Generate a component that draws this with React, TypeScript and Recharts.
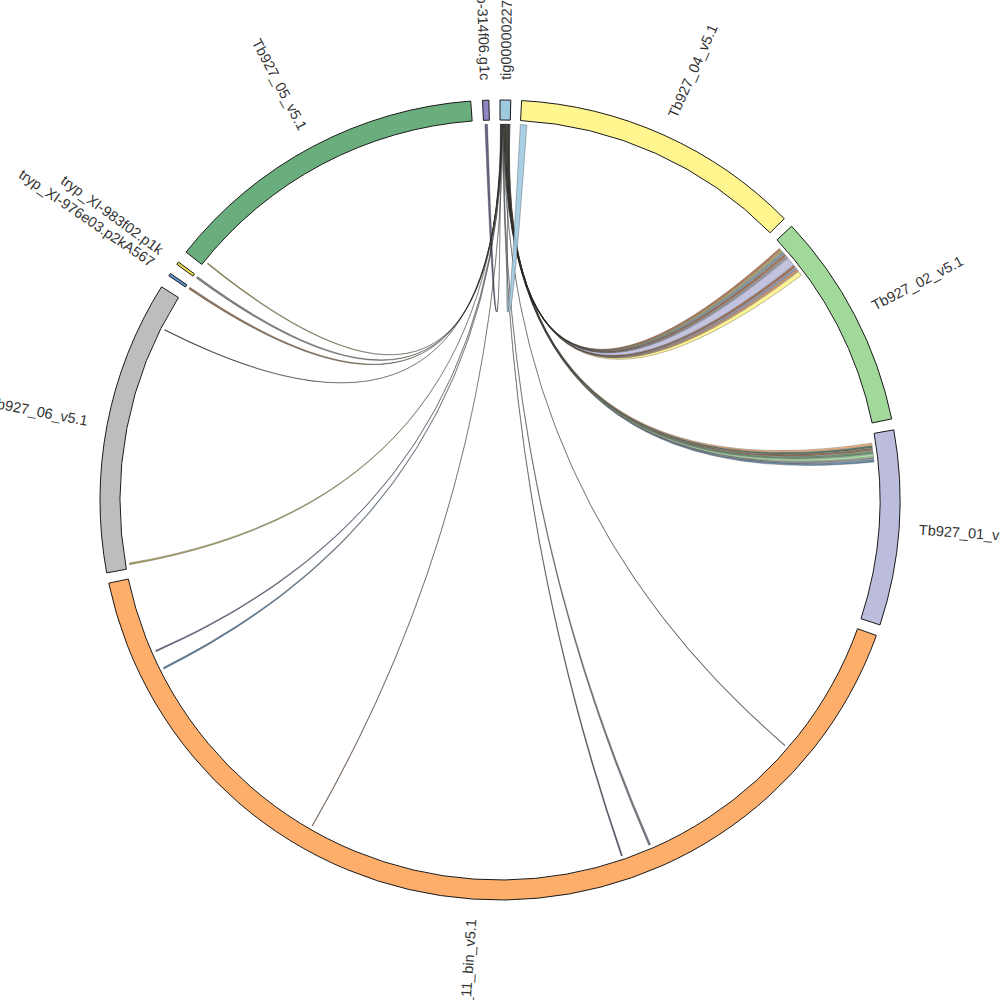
import React from 'react';
import { PieChart, Pie, Cell, Customized } from 'recharts';

const CX = 500;
const CY = 500;
const RING_INNER = 380;
const RING_OUTER = 400;
const CHORD_R = 376;
const LABEL_R = 420;

// sequences clockwise from 12 o'clock, sizes in degrees of the circle
const segmentNames = [
  'tig00000227',
  'Tb927_04_v5.1',
  'Tb927_02_v5.1',
  'Tb927_01_v5.1',
  'Tb927_11_bin_v5.1',
  'Tb927_06_v5.1',
  'tryp_XI-976e03.p2kA567',
  'tryp_XI-983f02.p1k',
  'Tb927_05_v5.1',
  'b-314f06.g1c',
];
const segmentSizes = [1.55, 42.2, 31.5, 28.3, 148.2, 42.7, 0.4, 0.4, 47.5, 0.9];
const gapsAfter = [1.55, 1.5, 1.6, 1.6, 1.5, 1.9, 1.6, 1.8, 1.7, 1.6];
const segmentColors = [
  '#9ecae1',
  '#fff68f',
  '#a1d99b',
  '#bcbddc',
  '#fdae6b',
  '#bdbdbd',
  '#5a93cf',
  '#ece04a',
  '#6aae7d',
  '#8e86c2',
];

// [from, fromStart, fromEnd, to, toStart, toEnd, color] offsets inside each sequence
type Link = [string, number, number, string, number, number, string];
const links: Link[] = [
  ['b-314f06.g1c', 0.2, 0.6, 'tig00000227', 0.05, 0.09, '#555577'],
  ['Tb927_05_v5.1', 0.6, 0.75, 'tig00000227', 0.1, 0.14, '#9a9040'],
  ['tryp_XI-983f02.p1k', 0.05, 0.35, 'tig00000227', 0.15, 0.19, '#777777'],
  ['tryp_XI-976e03.p2kA567', 0.05, 0.35, 'tig00000227', 0.2, 0.24, '#8a6a4a'],
  ['Tb927_06_v5.1', 37.35, 37.45, 'tig00000227', 0.25, 0.29, '#333333'],
  ['Tb927_06_v5.1', 0.6, 0.85, 'tig00000227', 0.3, 0.34, '#a8a050'],
  ['Tb927_11_bin_v5.1', 136.4, 136.6, 'tig00000227', 0.35, 0.39, '#5a5080'],
  ['Tb927_11_bin_v5.1', 133.5, 133.75, 'tig00000227', 0.4, 0.44, '#4e7396'],
  ['Tb927_11_bin_v5.1', 100.1, 100.2, 'tig00000227', 0.45, 0.49, '#8a5a3a'],
  ['Tb927_11_bin_v5.1', 51.2, 51.4, 'tig00000227', 0.5, 0.54, '#4a4a66'],
  ['Tb927_11_bin_v5.1', 46.6, 46.9, 'tig00000227', 0.55, 0.59, '#6a6c7a'],
  ['Tb927_11_bin_v5.1', 20.9, 21.0, 'tig00000227', 0.6, 0.64, '#44556a'],
  ['Tb927_01_v5.1', 3.9, 4.3, 'tig00000227', 0.65, 0.69, '#5a7fa0'],
  ['Tb927_01_v5.1', 3.6, 3.8, 'tig00000227', 0.7, 0.74, '#8a8a8a'],
  ['Tb927_01_v5.1', 3.1, 3.5, 'tig00000227', 0.75, 0.79, '#a1d99b'],
  ['Tb927_01_v5.1', 2.6, 3.0, 'tig00000227', 0.8, 0.84, '#5f8a64'],
  ['Tb927_01_v5.1', 2.2, 2.5, 'tig00000227', 0.85, 0.89, '#8c6446'],
  ['Tb927_01_v5.1', 1.8, 2.1, 'tig00000227', 0.9, 0.94, '#4f6e55'],
  ['Tb927_01_v5.1', 1.4, 1.7, 'tig00000227', 0.95, 0.99, '#fdae6b'],
  ['Tb927_02_v5.1', 5.8, 6.5, 'tig00000227', 1.0, 1.04, '#fff38a'],
  ['Tb927_02_v5.1', 5.4, 5.7, 'tig00000227', 1.05, 1.09, '#d08a50'],
  ['Tb927_02_v5.1', 5.0, 5.3, 'tig00000227', 1.1, 1.14, '#8a88a8'],
  ['Tb927_02_v5.1', 4.6, 4.9, 'tig00000227', 1.15, 1.19, '#9a5c3a'],
  ['Tb927_02_v5.1', 3.2, 4.5, 'tig00000227', 1.2, 1.24, '#bcbddc'],
  ['Tb927_02_v5.1', 2.8, 3.1, 'tig00000227', 1.25, 1.29, '#8c8c96'],
  ['Tb927_02_v5.1', 2.4, 2.7, 'tig00000227', 1.3, 1.34, '#a0603c'],
  ['Tb927_02_v5.1', 2.0, 2.3, 'tig00000227', 1.35, 1.39, '#6e8ea8'],
  ['Tb927_02_v5.1', 1.6, 1.9, 'tig00000227', 1.4, 1.44, '#a49f5c'],
  ['Tb927_02_v5.1', 1.2, 1.5, 'tig00000227', 1.45, 1.49, '#b86a44'],
  ['Tb927_04_v5.1', 0.0, 1.0, 'tig00000227', 1.5, 1.54, '#9ecae1'],
];

const pieData: { name: string; value: number; fill: string; gap: boolean }[] = [];
segmentNames.forEach((name, i) => {
  pieData.push({ name, value: segmentSizes[i], fill: segmentColors[i], gap: false });
  pieData.push({ name: '', value: gapsAfter[i], fill: 'none', gap: true });
});

const segmentStart: Record<string, number> = {};
{
  let acc = 0;
  segmentNames.forEach((name, i) => {
    segmentStart[name] = acc;
    acc += segmentSizes[i] + gapsAfter[i];
  });
}

// angle in degrees, clockwise from 12 o'clock
const pt = (deg: number, r: number) => {
  const a = (deg * Math.PI) / 180;
  return [CX + r * Math.sin(a), CY - r * Math.cos(a)];
};

const ribbonPath = (l: Link) => {
  const [from, fs, fe, to, ts, te] = l;
  const s0 = segmentStart[from] + fs;
  const s1 = segmentStart[from] + fe;
  const t0 = segmentStart[to] + ts;
  const t1 = segmentStart[to] + te;
  const r = CHORD_R;
  const [a0x, a0y] = pt(s0, r);
  const [a1x, a1y] = pt(s1, r);
  const [b0x, b0y] = pt(t0, r);
  const [b1x, b1y] = pt(t1, r);
  return (
    `M${a0x},${a0y}A${r},${r} 0 0 1 ${a1x},${a1y}` +
    `Q${CX},${CY} ${b0x},${b0y}` +
    `A${r},${r} 0 0 1 ${b1x},${b1y}` +
    `Q${CX},${CY} ${a0x},${a0y}Z`
  );
};

const ChordLayer = () => (
  <g>
    {links.map((l, i) => (
      <path
        key={i}
        d={ribbonPath(l)}
        fill={l[6]}
        fillOpacity={0.9}
        stroke="#222"
        strokeOpacity={0.6}
        strokeWidth={0.5}
      />
    ))}
  </g>
);

const renderLabel = (props: any) => {
  const entry = pieData[props.index];
  if (!entry || entry.gap) return null;
  const theta = 90 - props.midAngle;
  const [x, y] = pt(theta, LABEL_R);
  const right = theta < 180;
  const rot = right ? theta - 90 : theta + 90;
  return (
    <text
      x={x}
      y={y}
      textAnchor={right ? 'start' : 'end'}
      dominantBaseline="central"
      transform={`rotate(${rot} ${x} ${y})`}
      fontFamily="Liberation Sans, Arial, sans-serif"
      fontSize={14.5}
      fill="#333"
    >
      {entry.name}
    </text>
  );
};

const App: React.FC = () => {
  return (
    <div style={{ position: 'absolute', left: 0, top: 0, width: 1000, height: 1000, background: '#fff' }}>
      <PieChart width={1000} height={1000} margin={{ top: 0, right: 0, bottom: 0, left: 0 }}>
        <Customized component={ChordLayer} />
        <Pie
          data={pieData}
          dataKey="value"
          nameKey="name"
          cx={CX}
          cy={CY}
          innerRadius={RING_INNER}
          outerRadius={RING_OUTER}
          startAngle={90}
          endAngle={-270}
          paddingAngle={0}
          label={renderLabel}
          labelLine={false}
          isAnimationActive={false}
        >
          {pieData.map((d, i) => (
            <Cell
              key={i}
              fill={d.fill}
              stroke={d.gap ? 'none' : '#1a1a1a'}
              strokeWidth={1}
            />
          ))}
        </Pie>
      </PieChart>
    </div>
  );
};

export default App;
